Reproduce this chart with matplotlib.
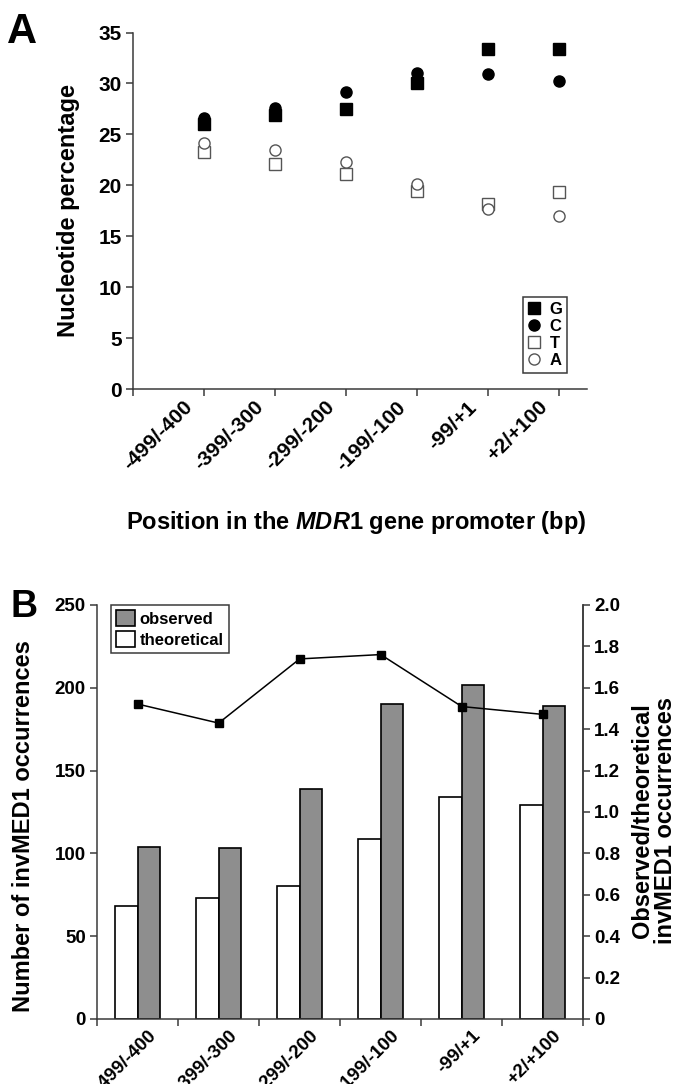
import matplotlib
matplotlib.use("Agg")
import matplotlib.pyplot as plt
import numpy as np
from matplotlib.patches import Patch

# ---- data ----
regions = ["-499/-400", "-399/-300", "-299/-200", "-199/-100", "-99/+1", "+2/+100"]

# panel A: nucleotide percentage per region
pct_G = [26.0, 26.9, 27.5, 30.0, 33.4, 33.4]
pct_C = [26.6, 27.6, 29.2, 31.0, 30.9, 30.2]
pct_T = [23.3, 22.1, 21.1, 19.4, 18.2, 19.3]
pct_A = [24.2, 23.5, 22.3, 20.1, 17.7, 17.0]

# panel B: invMED1 occurrences
observed = [103.6, 103.5, 139, 190, 201.7, 189]
theoretical = [68.3, 73.1, 80.5, 108.8, 134, 129.2]
ratio = [1.521, 1.429, 1.739, 1.760, 1.509, 1.471]

plt.rcParams["font.family"] = ["Liberation Sans", "DejaVu Sans"]
plt.rcParams["font.weight"] = "bold"
plt.rcParams["axes.labelweight"] = "bold"
plt.rcParams["mathtext.fontset"] = "custom"
plt.rcParams["mathtext.it"] = "Liberation Sans:italic:bold"
plt.rcParams["mathtext.rm"] = "Liberation Sans:bold"
AX = "#3a3a3a"

fig = plt.figure(figsize=(6.79, 10.84), dpi=100)


def style(ax, spines=("left", "bottom")):
    for s in ("top", "right", "left", "bottom"):
        ax.spines[s].set_visible(s in spines)
        ax.spines[s].set_color(AX)
        ax.spines[s].set_linewidth(1.1)
    ax.tick_params(which="major", direction="out", length=5, width=1.1, color=AX)


# ---------------- panel A ----------------
a = fig.add_axes([0.196, 0.641, 0.669, 0.329])
xs = np.arange(1, len(regions) + 1)
a.plot(xs, pct_G, "s", ms=8, color="black", ls="none", label="G")
a.plot(xs, pct_C, "o", ms=8, color="black", ls="none", label="C")
a.plot(xs, pct_T, "s", ms=8, mfc="white", mec="#555555", mew=1.0, ls="none", label="T")
a.plot(xs, pct_A, "o", ms=8, mfc="white", mec="#555555", mew=1.0, ls="none", label="A")
a.set_xlim(0, 6.4)
a.set_ylim(0, 35)
a.set_yticks(np.arange(0, 36, 5))
a.set_xticks(np.arange(0, 7))
a.set_xticklabels([])
a.set_xticks(np.arange(len(regions)) + 0.7, regions, minor=True)
style(a)
a.tick_params(axis="x", which="minor", length=0, pad=6)
a.tick_params(axis="y", labelsize=15, pad=3)
for t in a.get_xticklabels(minor=True):
    t.set_rotation(45); t.set_ha("right"); t.set_va("top")
    t.set_rotation_mode("anchor"); t.set_fontsize(15)
a.set_ylabel("Nucleotide percentage", fontsize=17, ha="center", va="center")
a.yaxis.set_label_coords(-0.143, 0.5)
a.set_xlabel(r"Position in the $\mathit{MDR}$1 gene promoter (bp)", fontsize=17, va="center")
a.xaxis.set_label_coords(0.49, -0.373)
leg = a.legend(loc="lower right", bbox_to_anchor=(0.956, 0.045), fontsize=12,
               handlelength=0.8, handletextpad=0.5, labelspacing=0.12, borderpad=0.3,
               fancybox=False, edgecolor=AX, framealpha=1, borderaxespad=0)
leg.get_frame().set_linewidth(1.1)
fig.text(0.010, 0.960, "A", fontsize=30, fontweight="bold", va="baseline", ha="left")

# ---------------- panel B ----------------
b = fig.add_axes([0.143, 0.060, 0.716, 0.382])
cx = np.arange(len(regions)) + 0.5
w = 0.278
b.bar(cx - w / 2, theoretical, w, color="white", edgecolor="black", lw=1.2, label="theoretical")
b.bar(cx + w / 2, observed, w, color="#8e8e8e", edgecolor="black", lw=1.2, label="observed")
b.set_xlim(0, len(regions))
b.set_ylim(0, 250)
b.set_yticks(np.arange(0, 251, 50))
b.set_xticks(np.arange(0, len(regions) + 1))
b.set_xticklabels([])
b.set_xticks(cx + 0.12, regions, minor=True)
style(b, ("left", "bottom", "right"))
b.tick_params(axis="x", which="minor", length=0, pad=6)
b.tick_params(axis="y", labelsize=13.5, pad=3)
for t in b.get_xticklabels(minor=True):
    t.set_rotation(45); t.set_ha("right"); t.set_va("top")
    t.set_rotation_mode("anchor"); t.set_fontsize(13.5)
b.set_ylabel("Number of invMED1 occurrences", fontsize=17, ha="center", va="center")
b.yaxis.set_label_coords(-0.152, 0.466)
handles = [Patch(facecolor="#8e8e8e", edgecolor="black", lw=1.2, label="observed"),
           Patch(facecolor="white", edgecolor="black", lw=1.2, label="theoretical")]
lb = b.legend(handles=handles, loc="upper left", bbox_to_anchor=(0.029, 1.0), fontsize=12,
              handlelength=1.1, handleheight=1.1, handletextpad=0.3, labelspacing=0.28,
              borderpad=0.3, fancybox=False, edgecolor=AX, framealpha=1, borderaxespad=0)
lb.get_frame().set_linewidth(1.1)

r = b.twinx()
r.plot(cx, ratio, "-s", color="black", lw=1.1, ms=5.5)
r.set_ylim(0, 2.0)
r.set_yticks(np.arange(0, 2.01, 0.2))
r.set_yticklabels(["0"] + [f"{v:.1f}" for v in np.arange(0.2, 2.01, 0.2)])
style(r, ("right",))
r.tick_params(axis="y", labelsize=13.5, pad=3)
r.set_ylabel("Observed/theoretical\ninvMED1 occurrences", fontsize=17,
             ha="center", va="center", rotation=90, linespacing=1.0)
r.yaxis.set_label_coords(1.146, 0.48)
fig.text(0.016, 0.431, "B", fontsize=27, fontweight="bold", va="baseline", ha="left")

fig.savefig("out.png", dpi=100)
